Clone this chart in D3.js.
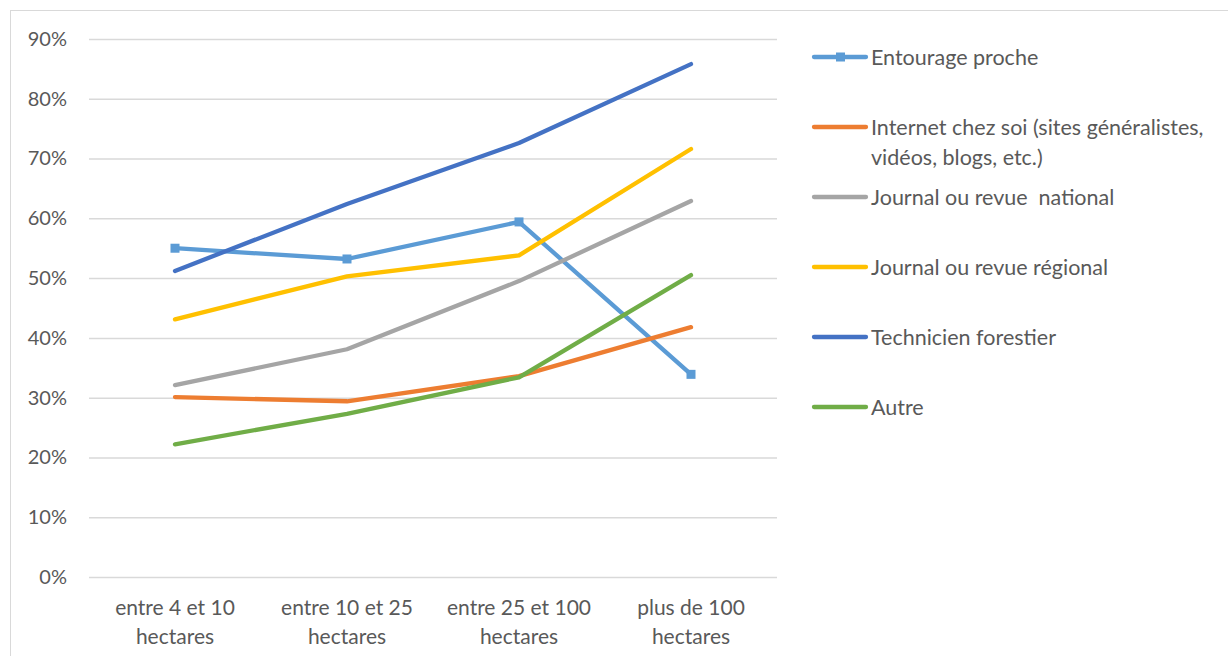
<!DOCTYPE html>
<html><head><meta charset="utf-8">
<script src="https://cdn.jsdelivr.net/npm/d3@7"></script>
<style>body{margin:0;background:#fff}svg{display:block}text{font-family:Lato,"Open Sans",sans-serif;fill:#595959;white-space:pre}</style>
</head><body><svg id="c" width="1228" height="656"></svg>
<script>
const categories = [["entre 4 et 10","hectares"],["entre 10 et 25","hectares"],["entre 25 et 100","hectares"],["plus de 100","hectares"]];
const seriesNames = ["Entourage proche","Internet chez soi (sites généralistes,|vidéos, blogs, etc.)","Journal ou revue  national","Journal ou revue régional","Technicien forestier","Autre"];
const entourage = [55.0, 53.2, 59.4, 33.9];
const internet = [30.1, 29.4, 33.6, 41.8];
const national = [32.1, 38.1, 49.5, 62.9];
const regional = [43.1, 50.3, 53.8, 71.6];
const technicien = [51.2, 62.4, 72.6, 85.8];
const autre = [22.2, 27.3, 33.4, 50.5];
const yTicks = [0,10,20,30,40,50,60,70,80,90];
const colors = ["#5B9BD5","#ED7D31","#A5A5A5","#FFC000","#4472C4","#70AD47"];
const allSeries = [entourage, internet, national, regional, technicien, autre];
const drawOrder = [0,1,2,3,4,5];

const svg = d3.select("#c");
svg.append("rect").attr("x",10.5).attr("y",10.5).attr("width",1240).attr("height",700)
  .attr("fill","none").attr("stroke","#d9d9d9").attr("stroke-width",1);

const x = d3.scaleBand().domain(d3.range(categories.length)).range([89,777]);
const y = d3.scaleLinear().domain([0,90]).range([577,39]);

const gy = svg.append("g").attr("transform","translate(89,0)")
  .call(d3.axisLeft(y).tickValues(yTicks).tickFormat(d=>d+"%").tickSize(-688).tickPadding(22));
gy.select(".domain").remove();
gy.selectAll(".tick line").attr("stroke","#d9d9d9").attr("stroke-width",1.5);
gy.selectAll(".tick text").style("font-size","20px").style("fill","#595959").attr("font-family",null);

const gx = svg.append("g").attr("transform","translate(0,577)")
  .call(d3.axisBottom(x).tickSize(0).tickFormat(""));
gx.select(".domain").remove();
gx.selectAll(".tick").each(function(d){
  const t = d3.select(this).append("text").attr("text-anchor","middle").style("font-size","21px").style("fill","#595959");
  categories[d].forEach((s,i)=>t.append("tspan").attr("x",0).attr("y",38+i*29).text(s));
});

const line = d3.line().x((d,i)=>x(i)+x.bandwidth()/2).y(d=>y(d));
drawOrder.forEach(k=>{
  svg.append("path").datum(allSeries[k]).attr("d",line).attr("fill","none")
    .attr("stroke",colors[k]).attr("stroke-width",4.3).attr("stroke-linejoin","round").attr("stroke-linecap","round");
});
svg.selectAll(".mk").data(entourage).enter().append("rect")
  .attr("x",(d,i)=>x(i)+x.bandwidth()/2-4.5).attr("y",d=>y(d)-4.5).attr("width",9).attr("height",9).attr("fill",colors[0]);

const legY = [57,127,197,267,337,407];
seriesNames.forEach((n,k)=>{
  const g = svg.append("g").attr("transform",`translate(0,${legY[k]})`);
  g.append("line").attr("x1",814).attr("x2",866).attr("y1",0).attr("y2",0).attr("stroke",colors[k]).attr("stroke-width",4.3).attr("stroke-linecap","round");
  if(k===0) g.append("rect").attr("x",836).attr("y",-4.5).attr("width",9).attr("height",9).attr("fill",colors[0]);
  const t = g.append("text").attr("x",871).attr("y",7.5).style("font-size","21.5px");
  n.split("|").forEach((s,i)=>t.append("tspan").attr("x",871).attr("dy",i?30:0).text(s));
});
</script></body></html>
